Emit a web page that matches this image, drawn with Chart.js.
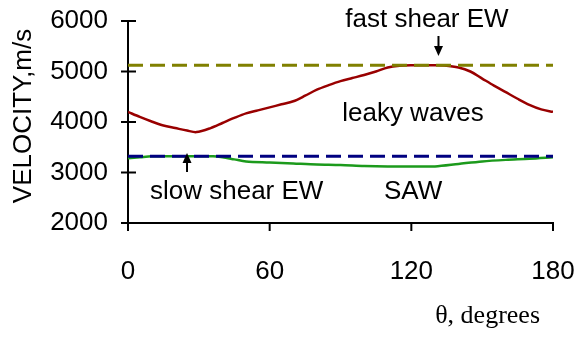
<!DOCTYPE html>
<html>
<head>
<meta charset="utf-8">
<script src="https://cdn.jsdelivr.net/npm/chart.js@4/dist/chart.umd.min.js"></script>
<style>
  html, body { margin: 0; padding: 0; background: #fff; }
  #wrap { width: 576px; height: 338px; position: relative; }
</style>
</head>
<body>
<div id="wrap"><canvas id="chart"></canvas></div>
<script>
// ---- data -----------------------------------------------------------------
const thetaTicks = [0, 60, 120, 180];
const velocityTicks = [2000, 3000, 4000, 5000, 6000];

const leakyTheta = [0, 5, 10, 15, 20, 25, 29, 35, 40, 45, 50, 55, 60, 65, 70, 75, 80, 85, 90, 95,
  100, 105, 110, 115, 120, 125, 130, 134, 140, 145, 150, 155, 160, 165, 170, 175, 180];
const leakyVel = [4200, 4100, 4010, 3930, 3880, 3830, 3800, 3880, 3980, 4080, 4170, 4230, 4290, 4350, 4410, 4520, 4640, 4730, 4810, 4870,
  4930, 5000, 5080, 5115, 5125, 5125, 5125, 5120, 5080, 5000, 4860, 4720, 4590, 4460, 4340, 4250, 4200];

const sawTheta = [0, 5, 10, 20, 30, 36, 40, 45, 50, 60, 70, 80, 90, 100, 110, 120, 130, 140, 150, 160, 170, 180];
const sawVel = [3280, 3300, 3320, 3320, 3320, 3320, 3300, 3260, 3220, 3200, 3180, 3160, 3150, 3130, 3120, 3120, 3120, 3170, 3220, 3250, 3270, 3300];

const fastShearVel = 5125;
const slowShearVel = 3320;

const FONT = "Arial, 'Liberation Sans', sans-serif";

function pts(xs, ys) {
  return xs.map((x, i) => ({ x, y: ys[i] }));
}

// ticks crossing / hanging off the axes, plus the in-plot labels and arrows
const decorations = {
  id: 'decorations',
  afterDraw(chart) {
    const { ctx, scales: { x, y } } = chart;
    const axisX = x.getPixelForValue(0);
    const axisY = y.getPixelForValue(2000);
    ctx.save();
    ctx.strokeStyle = '#000';
    ctx.lineWidth = 2;
    velocityTicks.forEach((v) => {
      const py = y.getPixelForValue(v);
      ctx.beginPath();
      ctx.moveTo(axisX - 7, py);
      ctx.lineTo(axisX + 8, py);
      ctx.stroke();
    });
    thetaTicks.forEach((t) => {
      const px = x.getPixelForValue(t);
      ctx.beginPath();
      ctx.moveTo(px, axisY);
      ctx.lineTo(px, axisY + 8);
      ctx.stroke();
    });

    // labels
    ctx.fillStyle = '#000';
    ctx.font = '26px ' + FONT;
    ctx.textAlign = 'center';
    ctx.textBaseline = 'alphabetic';
    ctx.fillText('fast shear EW', 427, 27);
    ctx.fillText('leaky waves', 413, 121);
    ctx.textAlign = 'left';
    ctx.fillText('slow shear EW', 150, 199);
    ctx.fillText('SAW', 384, 199);

    ctx.font = "26px 'Times New Roman', 'Liberation Serif', serif";
    ctx.textAlign = 'right';
    ctx.fillText('\u03b8, degrees', 540, 323);

    // y axis title
    ctx.font = '26px ' + FONT;
    ctx.textAlign = 'center';
    ctx.translate(31, 116);
    ctx.rotate(-Math.PI / 2);
    ctx.fillText('VELOCITY,m/s', 0, 0);
    ctx.setTransform(1, 0, 0, 1, 0, 0);

    // arrows
    const arrow = (ax, y0, y1) => {
      const dir = Math.sign(y1 - y0);
      ctx.lineWidth = 2;
      ctx.beginPath();
      ctx.moveTo(ax, y0);
      ctx.lineTo(ax, y1 - dir * 8);
      ctx.stroke();
      ctx.beginPath();
      ctx.moveTo(ax, y1);
      ctx.lineTo(ax - 4.5, y1 - dir * 10);
      ctx.lineTo(ax + 4.5, y1 - dir * 10);
      ctx.closePath();
      ctx.fill();
    };
    arrow(x.getPixelForValue(131.5), 36, 56);
    arrow(x.getPixelForValue(25), 172, 153);
    ctx.restore();
  }
};

new Chart(document.getElementById('chart'), {
  type: 'line',
  data: {
    datasets: [
      {
        label: 'fast shear EW',
        data: pts([0, 180], [fastShearVel, fastShearVel]),
        borderColor: '#808000',
        borderWidth: 3,
        borderDash: [15, 7],
        pointRadius: 0
      },
      {
        label: 'slow shear EW',
        data: pts([0, 180], [slowShearVel, slowShearVel]),
        borderColor: '#000080',
        borderWidth: 3,
        borderDash: [15, 7],
        pointRadius: 0
      },
      {
        label: 'leaky waves',
        data: pts(leakyTheta, leakyVel),
        borderColor: '#990000',
        borderWidth: 2.5,
        pointRadius: 0,
        tension: 0.3
      },
      {
        label: 'SAW',
        data: pts(sawTheta, sawVel),
        borderColor: '#1c9a1c',
        borderWidth: 2.5,
        pointRadius: 0,
        tension: 0.3
      }
    ]
  },
  options: {
    responsive: true,
    maintainAspectRatio: false,
    animation: false,
    layout: { padding: { left: 0, right: 23, top: 21, bottom: 0 } },
    plugins: { legend: { display: false }, tooltip: { enabled: false } },
    scales: {
      x: {
        type: 'linear',
        min: 0,
        max: 180,
        afterBuildTicks: (s) => { s.ticks = thetaTicks.map((v) => ({ value: v })); },
        afterFit: (s) => { s.height = 115; s.paddingLeft = 0; s.paddingRight = 0; },
        grid: { display: false, drawTicks: false },
        border: { display: true, color: '#000', width: 2 },
        ticks: { color: '#000', font: { family: FONT, size: 26 }, padding: 33, maxRotation: 0,
          callback: (v) => String(v) }
      },
      y: {
        min: 2000,
        max: 6000,
        afterBuildTicks: (s) => { s.ticks = velocityTicks.map((v) => ({ value: v })); },
        afterFit: (s) => { s.width = 128; s.paddingTop = 0; s.paddingBottom = 0; },
        grid: { display: false, drawTicks: false },
        border: { display: true, color: '#000', width: 2 },
        ticks: { color: '#000', font: { family: FONT, size: 26 }, padding: 20,
          callback: (v) => String(v) }
      }
    }
  },
  plugins: [decorations]
});
</script>
</body>
</html>
